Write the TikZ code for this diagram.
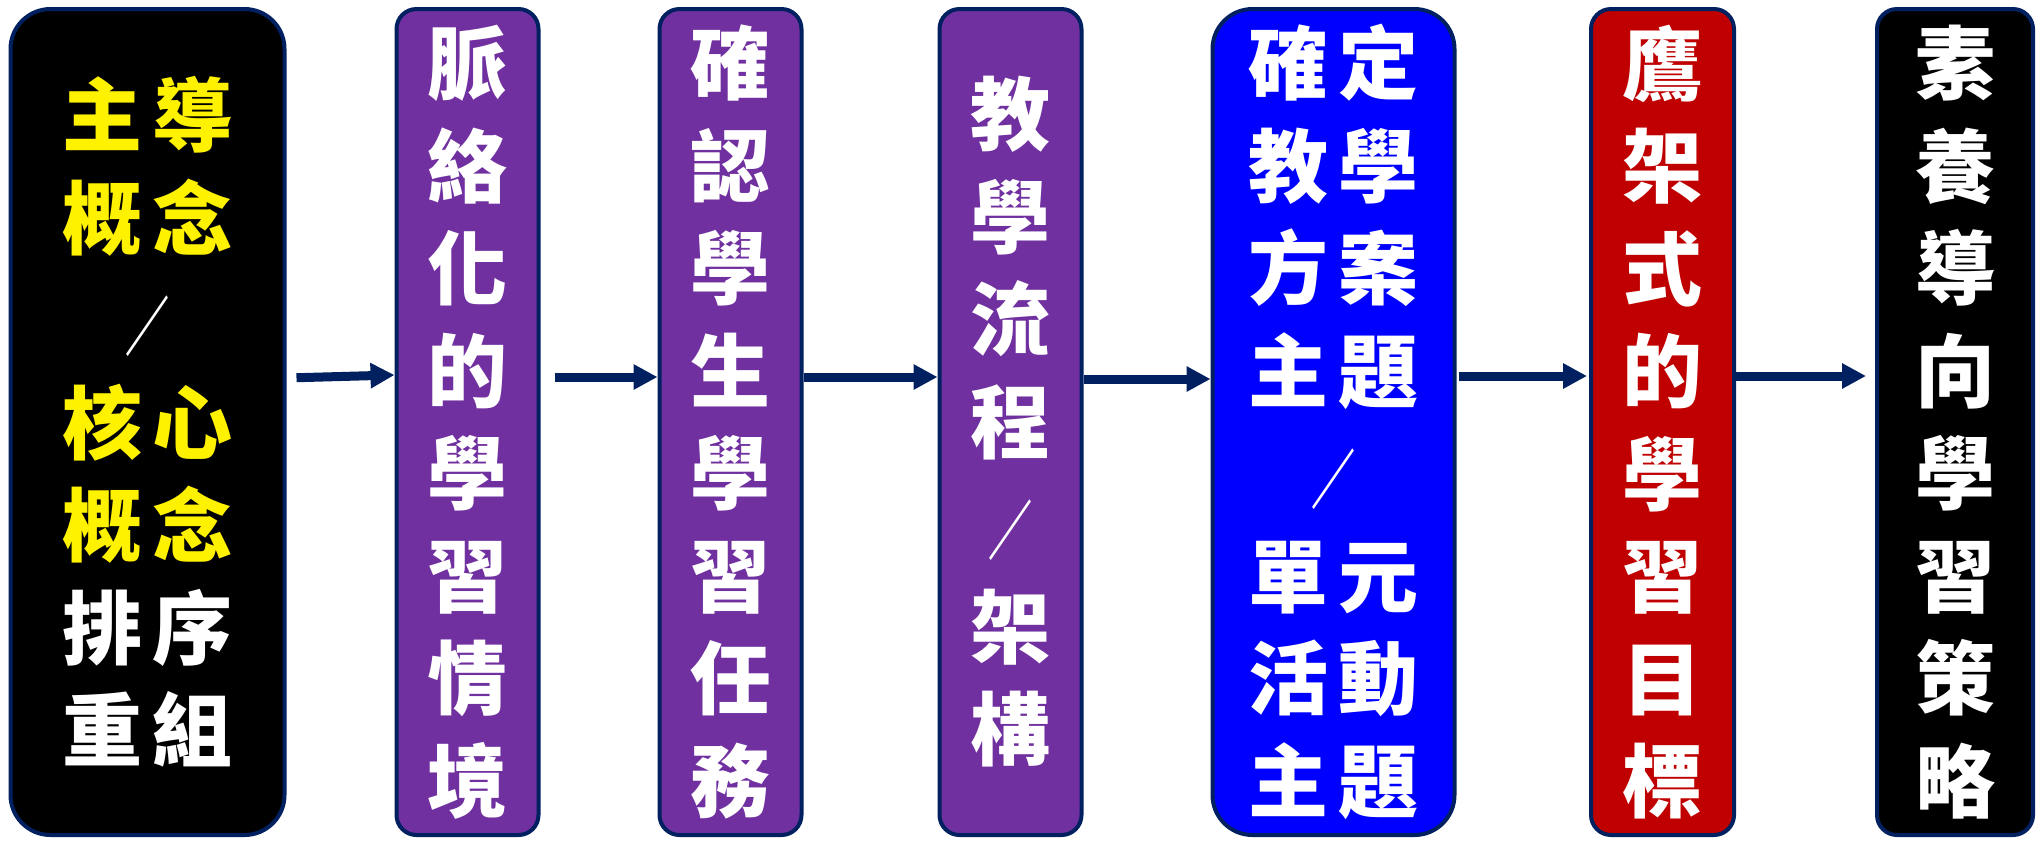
\documentclass[tikz,border=0pt]{standalone}
\usepackage{fontspec}
\newfontfamily\cjk{Noto Sans CJK TC}
\usetikzlibrary{arrows.meta}
\definecolor{navy}{RGB}{0,32,96}
\definecolor{mypurple}{RGB}{112,48,160}
\definecolor{myblue}{RGB}{0,0,255}
\definecolor{myred}{RGB}{192,0,0}
\tikzset{%
  mybox/.style={rectangle, rounded corners=10pt, draw=navy, line width=2pt, inner sep=0pt,
    minimum height=413pt, align=center, text=white,
    font={\cjk\bfseries\fontsize{40}{51.25}\selectfont}},
  myedge/.style={-{Triangle[length=12pt,width=12pt]}, draw=navy, line width=4.5pt}
}
\newcommand{\pair}[2]{#1\hspace{5pt}#2}
\newcommand{\slashch}{\scalebox{0.55}[0.8]{／}}

\begin{document}
\begin{tikzpicture}[x=0.5pt, y=-0.5pt]
  \useasboundingbox (0,0) rectangle (2036,843);

\node [mybox, fill=black, minimum width=137pt, rounded corners=20pt] (b1) at (147.5,422)
  {\textcolor{yellow}{\pair{主}{導}}\\ \textcolor{yellow}{\pair{概}{念}}\\ \slashch\\
   \textcolor{yellow}{\pair{核}{心}}\\ \textcolor{yellow}{\pair{概}{念}}\\ \pair{排}{序}\\ \pair{重}{組}};
\node [mybox, fill=mypurple, minimum width=71pt] (b2) at (467.5,422)
  {脈\\絡\\化\\的\\學\\習\\情\\境};
\node [mybox, fill=mypurple, minimum width=71pt] (b3) at (730.5,422)
  {確\\認\\學\\生\\學\\習\\任\\務};
\node [mybox, fill=mypurple, minimum width=71pt] (b4) at (1010.5,422)
  {教\\學\\流\\程\\\slashch\\架\\構};
\node [mybox, fill=myblue, minimum width=121pt, rounded corners=20pt] (b5) at (1333.5,422)
  {\pair{確}{定}\\ \pair{教}{學}\\ \pair{方}{案}\\ \pair{主}{題}\\ \slashch\\
   \pair{單}{元}\\ \pair{活}{動}\\ \pair{主}{題}};
\node [mybox, fill=myred, minimum width=71.5pt] (b6) at (1662.5,422)
  {鷹\\架\\式\\的\\學\\習\\目\\標};
\node [mybox, fill=black, minimum width=78pt] (b7) at (1955,422)
  {素\\養\\導\\向\\學\\習\\策\\略};

% arrows between the steps
\foreach \p/\q/\s/\e/\ys/\ye in {b1/b2/5pt/0pt/22pt/23.5pt, b2/b3/7pt/0pt/22.5pt/22.5pt,
    b3/b4/0pt/0pt/22.5pt/22.5pt, b4/b5/0pt/0pt/21.5pt/21.5pt, b5/b6/1pt/1pt/23pt/23pt,
    b6/b7/0pt/4.5pt/23pt/23pt}{
  \draw [myedge, shorten <=\s, shorten >=\e] ([yshift=\ys]\p.east) -- ([yshift=\ye]\q.west);
}

\end{tikzpicture}
\end{document}
